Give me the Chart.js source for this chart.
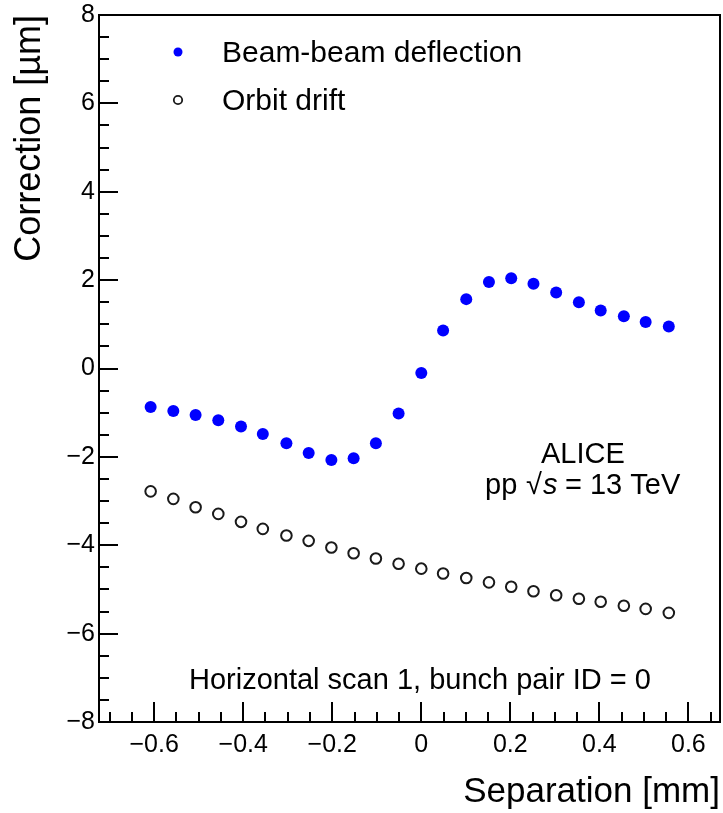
<!DOCTYPE html>
<html>
<head>
<meta charset="utf-8">
<script src="https://cdn.jsdelivr.net/npm/chart.js@4.4.0/dist/chart.umd.min.js"></script>
<style>
  html, body { margin: 0; padding: 0; background: #fff; }
  #wrap { width: 723px; height: 813px; }
</style>
</head>
<body>
<div id="wrap"><canvas id="chart" width="723" height="813"></canvas></div>
<script>
const FONT = '"Liberation Sans", Arial, Helvetica, sans-serif';

/* ── data ── */
const separation = [-0.608, -0.557, -0.507, -0.456, -0.405, -0.356, -0.303, -0.253,
                    -0.202, -0.152, -0.102, -0.051, 0.000, 0.049, 0.101, 0.152,
                    0.202, 0.252, 0.303, 0.354, 0.403, 0.455, 0.504, 0.556];
const beamBeam = [-0.87, -0.96, -1.05, -1.17, -1.31, -1.48, -1.69, -1.91,
                  -2.07, -2.03, -1.69, -1.02, -0.10, 0.86, 1.57, 1.96,
                  2.04, 1.92, 1.72, 1.50, 1.31, 1.18, 1.05, 0.95];
const orbitDrift = [-2.78, -2.95, -3.14, -3.29, -3.47, -3.63, -3.78, -3.90,
                    -4.05, -4.18, -4.30, -4.42, -4.53, -4.64, -4.74, -4.84,
                    -4.94, -5.04, -5.13, -5.21, -5.28, -5.37, -5.44, -5.53];
const xTicks = [-0.6, -0.4, -0.2, 0, 0.2, 0.4, 0.6];
const yTicks = [-8, -6, -4, -2, 0, 2, 4, 6, 8];
const seriesNames = ['Beam-beam deflection', 'Orbit drift'];

const toPoints = ys => separation.map((s, i) => ({ x: s, y: ys[i] }));
const fmt = v => (v < 0 ? '\u2212' : '') + String(Math.abs(Math.round(v * 10) / 10));

/* ── ROOT style frame, inward ticks, legend and labels ── */
const rootFrame = {
  id: 'rootFrame',
  afterDraw(chart) {
    const { ctx, chartArea: a, scales: { x, y } } = chart;
    ctx.save();
    ctx.strokeStyle = '#000';
    ctx.lineWidth = 2;
    ctx.strokeRect(a.left, a.top, a.right - a.left, a.bottom - a.top);

    ctx.beginPath();
    for (let i = -16; i <= 16; i++) {
      const py = Math.round(y.getPixelForValue(i * 0.5));
      const len = (i % 4 === 0) ? 19 : 10;
      ctx.moveTo(a.left, py);
      ctx.lineTo(a.left + len, py);
    }
    for (let i = -14; i <= 13; i++) {
      const px = Math.round(x.getPixelForValue(i * 0.05));
      const len = (i % 4 === 0) ? 20 : 10;
      ctx.moveTo(px, a.bottom);
      ctx.lineTo(px, a.bottom - len);
    }
    ctx.stroke();

    // legend
    const ds = chart.data.datasets;
    ctx.fillStyle = ds[0].pointBackgroundColor;
    ctx.beginPath();
    ctx.arc(178, 52, 4.5, 0, Math.PI * 2);
    ctx.fill();
    ctx.strokeStyle = ds[1].pointBorderColor;
    ctx.lineWidth = 1.8;
    ctx.beginPath();
    ctx.arc(178, 100, 4.2, 0, Math.PI * 2);
    ctx.stroke();

    ctx.fillStyle = '#000';
    ctx.textAlign = 'left';
    ctx.textBaseline = 'alphabetic';
    ctx.font = '30px ' + FONT;
    ctx.fillText(seriesNames[0], 222, 62);
    ctx.fillText(seriesNames[1], 222, 110);

    // experiment label
    ctx.font = '29px ' + FONT;
    ctx.fillText('ALICE', 541, 463);
    ctx.fillText('pp', 485, 494);
    ctx.fillText('\u221A', 526, 494);
    ctx.font = 'italic 29px ' + FONT;
    ctx.fillText('s', 543, 494);
    ctx.font = '29px ' + FONT;
    ctx.fillText('= 13 TeV', 565, 494);

    ctx.font = '29px ' + FONT;
    ctx.fillText('Horizontal scan 1, bunch pair ID = 0', 189, 689);
    ctx.restore();
  }
};

new Chart(document.getElementById('chart'), {
  type: 'scatter',
  data: {
    datasets: [
      {
        label: seriesNames[0],
        data: toPoints(beamBeam),
        pointRadius: 6,
        pointBorderWidth: 0,
        pointBackgroundColor: '#0000ff',
        pointBorderColor: '#0000ff',
        showLine: false
      },
      {
        label: seriesNames[1],
        data: toPoints(orbitDrift),
        pointRadius: 5.3,
        pointBorderWidth: 2,
        pointBackgroundColor: 'rgba(0,0,0,0)',
        pointBorderColor: '#1a1a1a',
        showLine: false
      }
    ]
  },
  options: {
    responsive: false,
    animation: false,
    layout: { autoPadding: false, padding: { top: 15, right: 3, left: 0, bottom: 0 } },
    plugins: { legend: { display: false }, tooltip: { enabled: false } },
    scales: {
      x: {
        type: 'linear',
        min: -0.724,
        max: 0.671,
        afterBuildTicks: s => { s.ticks = xTicks.map(v => ({ value: v })); },
        afterFit: s => { s.height = 91; s.paddingLeft = 0; s.paddingRight = 0; },
        grid: { display: false, drawTicks: false },
        border: { display: false },
        ticks: {
          color: '#000',
          padding: 8,
          maxRotation: 0,
          autoSkip: false,
          font: { family: FONT, size: 25 },
          callback: v => fmt(v)
        },
        title: {
          display: true,
          text: 'Separation [mm]',
          align: 'end',
          color: '#000',
          padding: { top: 0, bottom: 0 },
          font: { family: FONT, size: 35 }
        }
      },
      y: {
        type: 'linear',
        min: -8,
        max: 8,
        afterBuildTicks: s => { s.ticks = yTicks.map(v => ({ value: v })); },
        afterFit: s => { s.width = 99; s.paddingTop = 0; s.paddingBottom = 0; },
        grid: { display: false, drawTicks: false },
        border: { display: false },
        ticks: {
          color: '#000',
          padding: 4,
          autoSkip: false,
          font: { family: FONT, size: 25 },
          callback: v => fmt(v)
        },
        title: {
          display: true,
          text: 'Correction [\u00B5m]',
          align: 'end',
          color: '#000',
          padding: { top: 8, bottom: 0 },
          font: { family: FONT, size: 36 }
        }
      }
    }
  },
  plugins: [rootFrame]
});
</script>
</body>
</html>
